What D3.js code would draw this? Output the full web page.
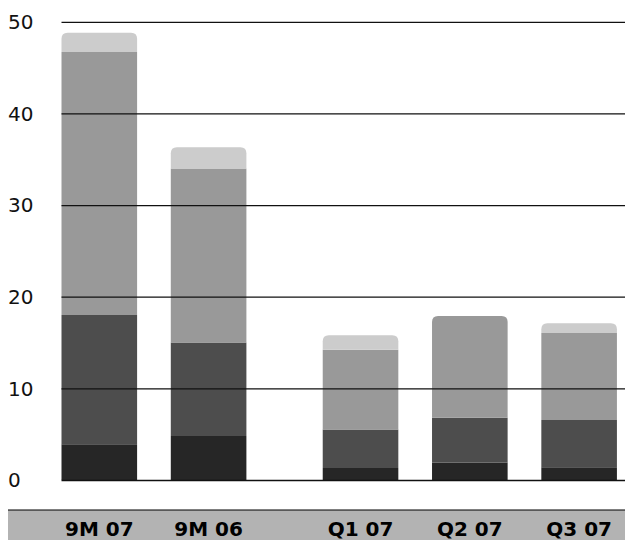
<!DOCTYPE html>
<html>
<head>
<meta charset="utf-8">
<script src="https://cdn.jsdelivr.net/npm/d3@7"></script>
<style>
  html, body { margin: 0; padding: 0; background: #fff; }
  svg { display: block; }
</style>
</head>
<body>
<div id="chart"></div>
<script>
// ---- data ----
const categories = ["9M 07", "9M 06", "Q1 07", "Q2 07", "Q3 07"];
const groups     = [0, 0, 1, 1, 1];
const series1 = [3.9, 4.8, 1.3, 1.9, 1.4];   // darkest (bottom)
const series2 = [14.1, 10.2, 4.2, 4.9, 5.15];
const series3 = [28.7, 19.0, 8.7, 11.1, 9.5];
const series4 = [2.1, 2.3, 1.6, 0, 1.05];    // lightest (top)
const yTicks = [0, 10, 20, 30, 40, 50];

const seriesList = [series1, series2, series3, series4];
const colors = ["#262626", "#4d4d4d", "#999999", "#cccccc"];

const W = 625, H = 540;
const svg = d3.select("#chart").append("svg").attr("width", W).attr("height", H);

const y = d3.scaleLinear().domain([0, 50]).range([480, 21.8]);
const slot = d3.scaleLinear().domain([0, 1]).range([61.5, 170.8]);
const groupGap = 0.39;
const barW = 75.6;
const xLeft = i => slot(i + groups[i] * groupGap);

// build stacked data
const table = categories.map((c, i) => {
  const row = { cat: c };
  seriesList.forEach((s, k) => row["s" + k] = s[i]);
  return row;
});
const keys = seriesList.map((s, k) => "s" + k);
const stacked = d3.stack().keys(keys)(table);

// top-rounded rect path
function topRounded(x, yTop, w, h, r) {
  r = Math.min(r, h, w / 2);
  return `M${x},${yTop + h}V${yTop + r}Q${x},${yTop} ${x + r},${yTop}H${x + w - r}Q${x + w},${yTop} ${x + w},${yTop + r}V${yTop + h}Z`;
}

// index of top-most nonzero segment per category
const topIdx = categories.map((c, i) => {
  let t = 0;
  seriesList.forEach((s, k) => { if (s[i] > 0) t = k; });
  return t;
});

stacked.forEach((layer, k) => {
  svg.append("g").selectAll("path")
    .data(layer)
    .join("path")
    .attr("fill", colors[k])
    .attr("d", (d, i) => {
      const x0 = xLeft(i), yT = y(d[1]), yB = y(d[0]);
      const h = yB - yT;
      if (h <= 0) return "";
      if (topIdx[i] === k) return topRounded(x0, yT, barW, h, 6);
      return `M${x0},${yB}V${yT}H${x0 + barW}V${yB}Z`;
    });
});

// gridlines (on top of bars)
const yAxis = d3.axisLeft(y).tickValues(yTicks).tickSize(-(W - 61.5)).tickFormat("");
const ga = svg.append("g").attr("transform", "translate(61.5,0)").call(yAxis);
ga.select(".domain").remove();
ga.selectAll(".tick line").attr("stroke", "#111").attr("stroke-width", 1.3);

// y tick labels
svg.append("g").selectAll("text")
  .data(yTicks)
  .join("text")
  .attr("x", 8)
  .attr("y", d => y(d))
  .attr("dy", "0.36em")
  .attr("font-family", "DejaVu Sans, sans-serif")
  .attr("font-size", 20)
  .attr("fill", "#111")
  .text(d => d);

// category band
svg.append("rect").attr("x", 8).attr("y", 510).attr("width", W - 8).attr("height", 30).attr("fill", "#b3b3b3");
svg.append("line").attr("x1", 8).attr("x2", W).attr("y1", 510).attr("y2", 510).attr("stroke", "#000").attr("stroke-width", 1.2);

svg.append("g").selectAll("text")
  .data(categories)
  .join("text")
  .attr("x", (d, i) => xLeft(i) + barW / 2)
  .attr("y", 535.5)
  .attr("text-anchor", "middle")
  .attr("font-family", "DejaVu Sans, sans-serif")
  .attr("font-weight", "bold")
  .attr("font-size", 20)
  .attr("fill", "#000")
  .text(d => d);
</script>
</body>
</html>
